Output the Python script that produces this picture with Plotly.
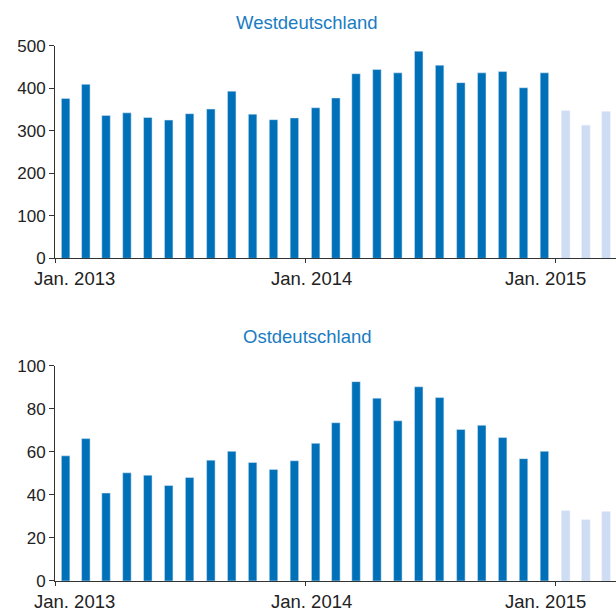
import plotly.graph_objects as go

months = ["2013-01", "2013-02", "2013-03", "2013-04", "2013-05", "2013-06",
          "2013-07", "2013-08", "2013-09", "2013-10", "2013-11", "2013-12",
          "2014-01", "2014-02", "2014-03", "2014-04", "2014-05", "2014-06",
          "2014-07", "2014-08", "2014-09", "2014-10", "2014-11", "2014-12",
          "2015-01", "2015-02", "2015-03"]
west = [376, 409, 336, 342, 331, 325, 340, 351, 393, 339, 326, 330,
        354, 377, 434, 444, 436, 487, 454, 413, 436, 439, 401, 436,
        347, 313, 345]
ost = [58.2, 66.2, 40.9, 50.3, 49.2, 44.4, 48.1, 56.2, 60.3, 55.1, 51.9, 55.9,
       64.0, 73.6, 92.7, 85.0, 74.5, 90.3, 85.3, 70.5, 72.4, 66.7, 56.9, 60.3,
       32.7, 28.5, 32.3]
n_actual = 24  # last three months are forecast (light bars)
tick_vals = ["2013-01-01", "2014-01-01", "2015-01-01"]
tick_text = ["Jan. 2013", "Jan. 2014", "Jan. 2015"]
tick_shift = [19, 6, -10]
titles = ["Westdeutschland", "Ostdeutschland"]

DARK = "#0071b8"
LIGHT = "#cedcf4"
TXT = "#222222"
TITLE = "#1a7cc2"
FONT = "Liberation Sans, Arial, Helvetica, sans-serif"

colors = [DARK] * n_actual + [LIGHT] * (len(months) - n_actual)

fig = go.Figure()
fig.add_trace(go.Bar(x=months, y=west, marker_color=colors, xperiod="M1",
                     xperiodalignment="middle", xaxis="x", yaxis="y",
                     showlegend=False))
fig.add_trace(go.Bar(x=months, y=ost, marker_color=colors, xperiod="M1",
                     xperiodalignment="middle", xaxis="x2", yaxis="y2",
                     showlegend=False))

xcommon = dict(type="date", range=["2013-01-01", "2015-03-31"],
               tickvals=tick_vals, showticklabels=False, ticks="outside",
               ticklen=4, tickcolor="#333", showline=True, linecolor="#333",
               linewidth=1, showgrid=False, zeroline=False)
ycommon = dict(ticks="outside", ticklen=5, tickcolor="#333", showline=True,
               linecolor="#333", linewidth=1, showgrid=False, zeroline=False,
               tickfont=dict(size=17, color=TXT, family=FONT))

fig.update_layout(
    width=616, height=611,
    margin=dict(l=55, r=0, t=0, b=30),
    plot_bgcolor="white", paper_bgcolor="white",
    bargap=0.58,
    font=dict(family=FONT, color=TXT),
    xaxis=dict(domain=[0, 1], anchor="y", **xcommon),
    yaxis=dict(domain=[0.564, 0.936], range=[0, 500], dtick=100, anchor="x", **ycommon),
    xaxis2=dict(domain=[0, 1], anchor="y2", **xcommon),
    yaxis2=dict(domain=[0.0, 0.376], range=[0, 100], dtick=20, anchor="x2", **ycommon),
)

annotations = []
for xr, yr in (("x", "y"), ("x2", "y2")):
    for v, t, s in zip(tick_vals, tick_text, tick_shift):
        annotations.append(dict(x=v, y=0, xref=xr, yref=yr, text=t,
                                showarrow=False, xanchor="center", yanchor="top",
                                xshift=s, yshift=-8,
                                font=dict(size=18.5, color=TXT, family=FONT)))
annotations.append(dict(x=0.45, y=0.9656, xref="paper", yref="paper",
                        yshift=6, text=titles[0], showarrow=False,
                        xanchor="center", yanchor="middle",
                        font=dict(size=18.5, color=TITLE, family=FONT)))
annotations.append(dict(x=0.45, y=0.4234, xref="paper", yref="paper",
                        yshift=2, text=titles[1], showarrow=False,
                        xanchor="center", yanchor="middle",
                        font=dict(size=18.5, color=TITLE, family=FONT)))
fig.update_layout(annotations=annotations)

fig.write_html("out.html", config={"displayModeBar": False},
               post_script="document.body.style.margin='0';document.body.style.overflow='hidden';")
